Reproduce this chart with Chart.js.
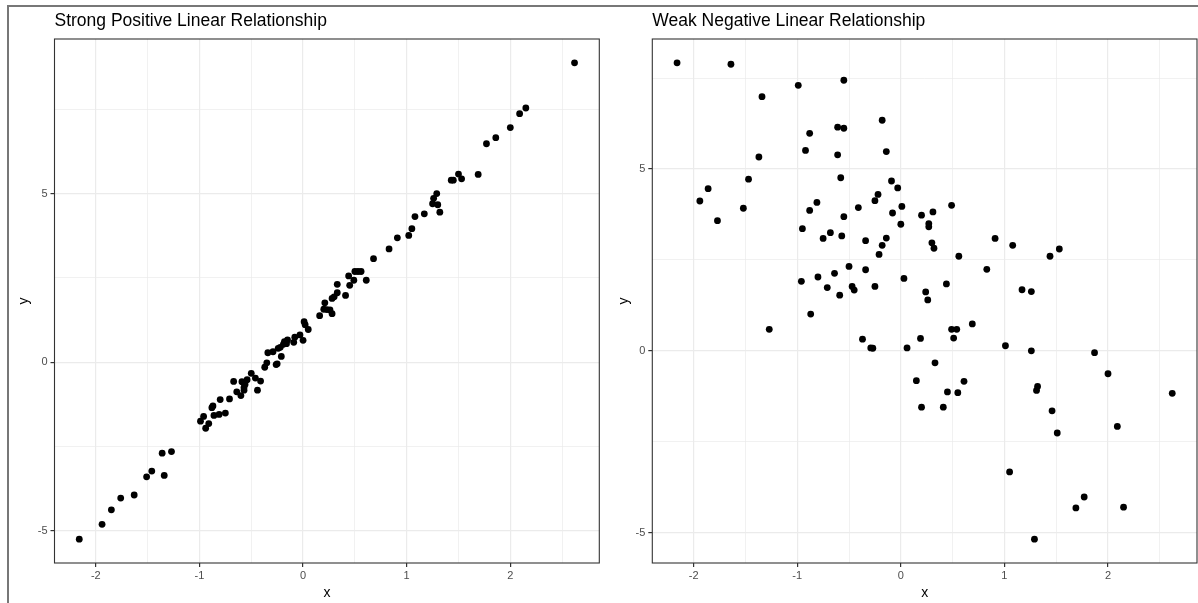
<!DOCTYPE html>
<html>
<head>
<meta charset="utf-8">
<script src="https://cdn.jsdelivr.net/npm/chart.js@4.4.1/dist/chart.umd.min.js"></script>
<style>
  html, body { margin: 0; padding: 0; background: #fff; }
  body { width: 1198px; height: 603px; position: relative; overflow: hidden; }
  #frame { position: absolute; left: 7px; top: 5px; width: 1200px; height: 610px;
           border-left: 2px solid #777; border-top: 2px solid #777; }
  .panel { position: absolute; top: 0; }
</style>
</head>
<body>
<div id="frame"></div>
<div class="panel" style="left:0;width:600px;height:603px"><canvas id="left" width="600" height="603"></canvas></div>
<div class="panel" style="left:600px;width:598px;height:603px"><canvas id="right" width="598" height="603"></canvas></div>
<script>
//--------------- data ---------------//
var xStrong = [-2.16,-1.94,-1.85,-1.76,-1.63,-1.51,-1.46,-1.34,-1.36,-1.27,
  -0.99,-0.96,-0.94,-0.91,-0.88,-0.87,-0.86,-0.81,-0.80,-0.75,
  -0.71,-0.67,-0.64,-0.60,-0.57,-0.59,-0.56,-0.54,-0.57,-0.50,
  -0.46,-0.41,-0.44,-0.37,-0.35,-0.34,-0.29,-0.26,-0.25,-0.21,
  -0.24,-0.22,-0.18,-0.16,-0.15,-0.19,-0.09,-0.08,-0.03,0.00,
  0.01,0.02,0.05,0.16,0.20,0.23,0.21,0.26,0.28,0.28,
  0.30,0.33,0.33,0.41,0.45,0.44,0.49,0.50,0.53,0.56,
  0.61,0.68,0.83,0.91,1.02,1.05,1.08,1.17,1.25,1.26,
  1.29,1.30,1.32,1.43,1.45,1.50,1.53,1.69,1.77,1.86,
  2.00,2.09,2.15,2.62];
var yStrong = [-5.25,-4.81,-4.38,-4.03,-3.94,-3.40,-3.23,-3.36,-2.70,-2.65,
  -1.75,-1.61,-1.96,-1.82,-1.35,-1.30,-1.58,-1.55,-1.11,-1.51,
  -1.09,-0.57,-0.88,-0.99,-0.83,-0.58,-0.66,-0.52,-0.75,-0.33,
  -0.47,-0.56,-0.83,-0.15,-0.02,0.28,0.31,-0.07,-0.05,0.17,
  0.41,0.44,0.61,0.55,0.66,0.53,0.59,0.74,0.81,0.65,
  1.20,1.11,0.97,1.38,1.57,1.56,1.76,1.55,1.44,1.89,
  1.94,2.06,2.31,1.98,2.28,2.56,2.43,2.69,2.69,2.69,
  2.43,3.07,3.36,3.69,3.76,3.96,4.32,4.40,4.70,4.86,
  5.00,4.67,4.45,5.40,5.40,5.58,5.44,5.57,6.48,6.66,
  6.96,7.37,7.54,8.88];

var xWeak = [-2.16,-1.64,-0.55,-0.99,-1.34,-0.18,-0.61,-0.55,-0.88,-0.92,
  -0.14,-0.61,-1.37,-0.58,-1.47,-0.09,-0.03,-1.86,-0.22,-1.94,
  -0.25,-0.81,0.49,0.01,-0.41,-1.52,-0.88,0.31,-0.08,0.20,
  -0.55,-1.77,0.00,0.27,0.27,-0.95,-0.68,-0.57,-0.75,-0.14,
  0.91,-0.34,0.30,-0.18,1.08,0.32,1.53,-0.21,0.56,1.44,
  -0.50,-0.34,0.83,-0.64,-0.80,0.03,-0.96,0.44,-0.71,-0.47,
  -0.45,-0.25,1.17,1.26,0.24,-0.59,0.26,-0.87,0.69,0.49,
  0.54,-1.27,0.51,0.19,-0.37,-0.29,-0.27,0.06,1.01,1.26,
  1.87,0.33,2.00,0.15,0.61,1.32,1.31,0.45,0.55,2.62,
  0.20,0.41,1.46,2.09,1.51,1.05,1.77,1.69,2.15,1.29];
var yWeak = [7.92,7.88,7.44,7.30,6.99,6.34,6.15,6.12,5.98,5.51,
  5.48,5.39,5.33,4.76,4.72,4.67,4.48,4.46,4.30,4.12,
  4.13,4.08,4.00,3.97,3.94,3.92,3.86,3.82,3.79,3.73,
  3.69,3.58,3.48,3.50,3.41,3.36,3.25,3.16,3.09,3.10,
  3.09,3.03,2.97,2.90,2.90,2.82,2.80,2.65,2.60,2.60,
  2.32,2.23,2.24,2.13,2.03,1.99,1.91,1.84,1.74,1.77,
  1.67,1.77,1.68,1.63,1.62,1.53,1.40,1.01,0.74,0.59,
  0.59,0.59,0.35,0.34,0.32,0.08,0.07,0.08,0.14,0.00,
  -0.05,-0.33,-0.63,-0.82,-0.84,-0.98,-1.09,-1.13,-1.15,-1.17,
  -1.55,-1.55,-1.65,-2.08,-2.26,-3.33,-4.02,-4.32,-4.30,-5.18];

var xMajor = [-2, -1, 0, 1, 2];
var yMajor = [-5, 0, 5];

var FONT = "'Liberation Sans', Arial, Helvetica, sans-serif";

//--------------- helpers ---------------//
// ggplot style 5% expansion of the data range
function expand(arr) {
  var lo = Math.min.apply(null, arr), hi = Math.max.apply(null, arr);
  var pad = (hi - lo) * 0.05;
  return [lo - pad, hi + pad];
}

// major ticks plus the half-way minor lines that fall inside the range
function gridValues(major, range) {
  var step = major[1] - major[0];
  var out = [];
  for (var v = major[0] - step; v <= major[major.length - 1] + step + 1e-9; v += step / 2) {
    var r = Math.round(v * 100) / 100;
    if (r >= range[0] && r <= range[1]) out.push(r);
  }
  return out;
}

// title at the panel's left edge + panel border on top of the points
var panelDeco = {
  id: 'panelDeco',
  afterDatasetsDraw: function(chart) {
    var a = chart.chartArea, c = chart.ctx;
    c.save();
    c.strokeStyle = '#333333';
    c.lineWidth = 1.1;
    c.strokeRect(a.left, a.top, a.right - a.left, a.bottom - a.top);
    c.restore();
  },
  afterDraw: function(chart, args, opts) {
    var c = chart.ctx;
    c.save();
    c.fillStyle = '#000';
    c.font = '17.5px ' + FONT;
    c.textBaseline = 'alphabetic';
    c.textAlign = 'left';
    c.fillText(opts.text, chart.chartArea.left, 26);
    c.restore();
  }
};

function makePanel(id, title, xs, ys, areaLeft, areaRight, canvasW) {
  var xr = expand(xs), yr = expand(ys);
  var xGrid = gridValues(xMajor, xr), yGrid = gridValues(yMajor, yr);
  var pts = xs.map(function(x, i) { return {x: x, y: ys[i]}; });

  function isMajor(list, v) { return list.indexOf(v) !== -1; }

  return new Chart(document.getElementById(id), {
    type: 'scatter',
    data: {
      datasets: [{
        data: pts,
        backgroundColor: '#000',
        borderWidth: 0,
        pointRadius: 3.4,
        pointHoverRadius: 3.4
      }]
    },
    plugins: [panelDeco],
    options: {
      responsive: false,
      animation: false,
      events: [],
      layout: { autoPadding: false, padding: { left: 0, top: 39, right: canvasW - areaRight, bottom: 0 } },
      plugins: {
        legend: { display: false },
        tooltip: { enabled: false },
        panelDeco: { text: title }
      },
      scales: {
        x: {
          type: 'linear',
          min: xr[0], max: xr[1],
          afterBuildTicks: function(s) { s.ticks = xGrid.map(function(v) { return {value: v}; }); },
          afterFit: function(s) { s.height = 40; },
          border: { display: false },
          grid: {
            color: '#EBEBEB',
            lineWidth: function(ctx) { return isMajor(xMajor, ctx.tick.value) ? 1.2 : 0.7; },
            tickLength: 4,
            tickColor: function(ctx) { return isMajor(xMajor, ctx.tick.value) ? '#333333' : 'rgba(0,0,0,0)'; }
          },
          ticks: {
            autoSkip: false, maxRotation: 0, padding: 2,
            color: '#4D4D4D', font: { family: FONT, size: 11 },
            callback: function(v) { return isMajor(xMajor, v) ? String(v) : ''; }
          },
          title: { display: true, text: 'x', color: '#000', font: { family: FONT, size: 14 }, padding: { top: 0, bottom: 1 } }
        },
        y: {
          type: 'linear',
          min: yr[0], max: yr[1],
          afterBuildTicks: function(s) { s.ticks = yGrid.map(function(v) { return {value: v}; }); },
          afterFit: function(s) { s.width = areaLeft; },
          border: { display: false },
          grid: {
            color: '#EBEBEB',
            lineWidth: function(ctx) { return isMajor(yMajor, ctx.tick.value) ? 1.2 : 0.7; },
            tickLength: 4,
            tickColor: function(ctx) { return isMajor(yMajor, ctx.tick.value) ? '#333333' : 'rgba(0,0,0,0)'; }
          },
          ticks: {
            autoSkip: false, padding: 3,
            color: '#4D4D4D', font: { family: FONT, size: 11 },
            callback: function(v) { return isMajor(yMajor, v) ? String(v) : ''; }
          },
          title: { display: true, text: 'y', color: '#000', font: { family: FONT, size: 14 }, padding: { top: 15.5, bottom: 0 } }
        }
      }
    }
  });
}

//--------------- panels ---------------//
var chartStrong = makePanel('left', 'Strong Positive Linear Relationship', xStrong, yStrong, 54.5, 599.3, 600);
var chartWeak = makePanel('right', 'Weak Negative Linear Relationship', xWeak, yWeak, 52.3, 597, 598);
</script>
</body>
</html>
